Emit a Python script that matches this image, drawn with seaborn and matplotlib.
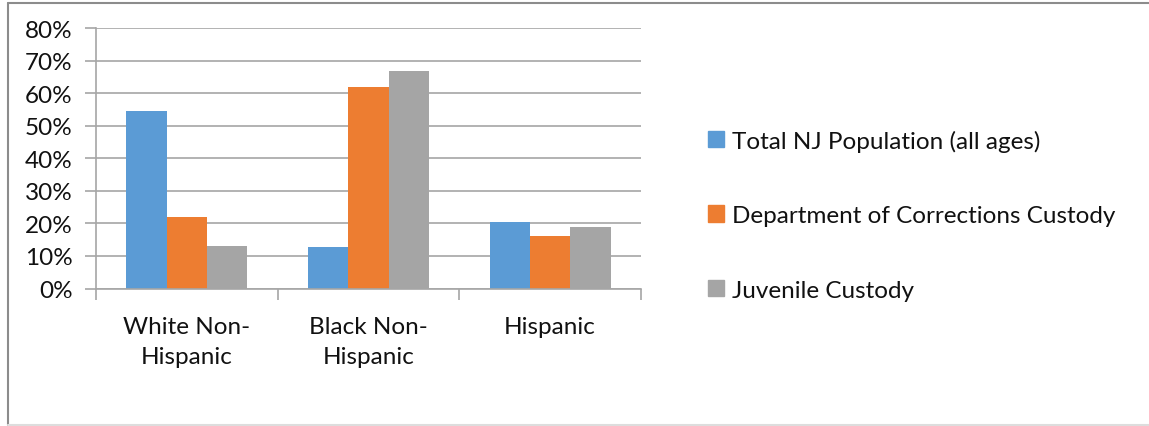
import matplotlib
matplotlib.use("Agg")
import matplotlib.pyplot as plt
import seaborn as sns
import pandas as pd
from matplotlib.lines import Line2D
from matplotlib.ticker import FixedLocator, PercentFormatter

categories = ["White Non-\nHispanic", "Black Non-\nHispanic", "Hispanic"]
series_names = ["Total NJ Population (all ages)",
                "Department of Corrections Custody",
                "Juvenile Custody"]
total_nj = [0.546, 0.127, 0.205]
doc_custody = [0.221, 0.619, 0.160]
juvenile = [0.130, 0.669, 0.189]
y_ticks = [0, 0.1, 0.2, 0.3, 0.4, 0.5, 0.6, 0.7, 0.8]
colors = ["#5B9BD5", "#ED7D31", "#A5A5A5"]

rows = []
for name, vals in zip(series_names, [total_nj, doc_custody, juvenile]):
    for c, v in zip(categories, vals):
        rows.append({"category": c, "series": name, "value": v})
df = pd.DataFrame(rows)

sns.set_theme(style="white")
plt.rcParams["font.family"] = ["Lato", "DejaVu Sans"]

W, H = 1149, 427
FS = 17.5
fig = plt.figure(figsize=(W / 100, H / 100), dpi=100)
ax = fig.add_axes([96 / W, 1 - 289.5 / H, (641 - 96) / W, (289.5 - 29) / H])

sns.barplot(data=df, x="category", y="value", hue="series", order=categories,
            hue_order=series_names, palette=colors, width=0.667, gap=0,
            saturation=1, linewidth=0, ax=ax, legend=True)

ax.set_ylim(0, 0.8)
ax.set_xlim(-0.5, 2.5)
ax.yaxis.set_major_locator(FixedLocator(y_ticks))
ax.yaxis.set_major_formatter(PercentFormatter(1.0, decimals=0))
ax.grid(axis="y", color="#A6A6A6", linewidth=1.2)
ax.set_axisbelow(True)
for s in ["top", "right"]:
    ax.spines[s].set_visible(False)
for s in ["left", "bottom"]:
    ax.spines[s].set_color("#A6A6A6")
    ax.spines[s].set_linewidth(1.2)
ax.set_xlabel("")
ax.set_ylabel("")
ax.tick_params(axis="y", which="major", left=True, length=8, width=1.2,
               color="#A6A6A6", labelsize=FS, pad=9, labelcolor="#111111")
ax.tick_params(axis="x", which="major", bottom=False, labelsize=FS, pad=14,
               labelcolor="#111111")
ax.xaxis.set_minor_locator(FixedLocator([-0.5, 0.5, 1.5, 2.5]))
ax.tick_params(axis="x", which="minor", bottom=True, length=8, width=1.2,
               color="#A6A6A6")
for lbl in ax.get_xticklabels():
    lbl.set_linespacing(1.5)

ax.get_legend().remove()
handles = [plt.Rectangle((0, 0), 1, 1, color=c) for c in colors]
fig.legend(handles, series_names, loc="center left",
           bbox_to_anchor=(686 / W, 1 - 216 / H), frameon=False,
           fontsize=FS, handlelength=0.65, handleheight=0.65,
           handletextpad=0.35, labelspacing=2.2, labelcolor="#111111")

# outer chart border
fig.add_artist(Line2D([8 / W, 8 / W], [1 - 426 / H, 1 - 3.5 / H],
                      transform=fig.transFigure, color="#8C8C8C", lw=1.5))
fig.add_artist(Line2D([8 / W, 1], [1 - 3.5 / H, 1 - 3.5 / H],
                      transform=fig.transFigure, color="#8C8C8C", lw=1.5))
fig.add_artist(Line2D([8 / W, 1], [1 - 426 / H, 1 - 426 / H],
                      transform=fig.transFigure, color="#DDDDDD", lw=1.5))

fig.savefig("out.png", dpi=100)
